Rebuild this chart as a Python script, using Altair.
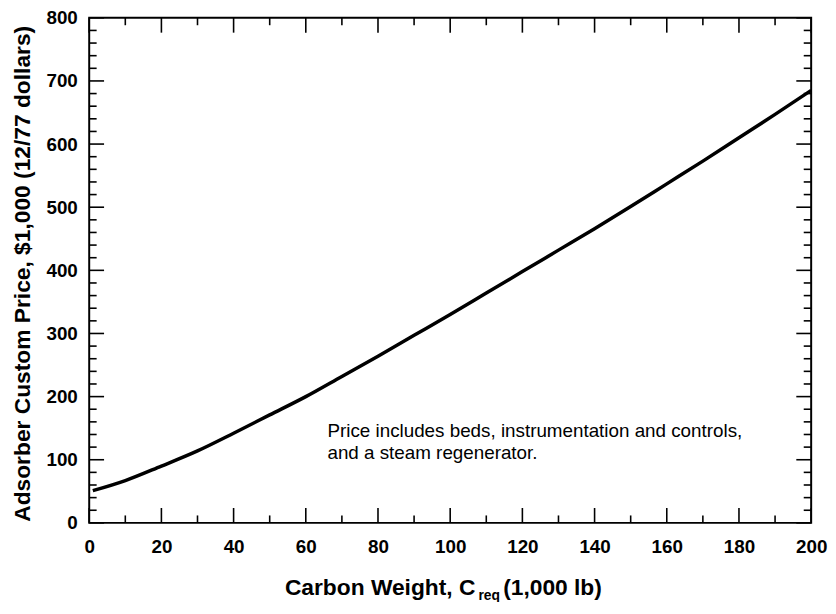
import altair as alt
import pandas as pd

# ---- data ----
carbon_weight = [1, 10, 20, 30, 40, 50, 60, 70, 80, 90, 100, 110, 120, 130, 140,
                 150, 160, 170, 180, 190, 200]
price = [51, 67, 90, 114, 142, 171, 200, 232, 264, 297, 330, 364, 398, 432, 466,
         501, 537, 573, 610, 647, 685]

x_major = list(range(0, 201, 20))
x_minor = list(range(10, 200, 20))
y_major = list(range(0, 801, 100))
y_minor = [v for v in range(20, 800, 20) if v % 100]

note_text = ["Price includes beds, instrumentation and controls,\nand a steam regenerator."]
note_x = [66]
note_y = [136]

x_title_main = ["Carbon Weight, C"]
x_title_sub = ["req"]
x_title_tail = ["(1,000 lb)"]
y_title = "Adsorber Custom Price, $1,000 (12/77 dollars)"

# ---- layout ----
W, H = 729, 510
FONT = "Liberation Sans"
MAJ, MIN = 15, 7.5

xs = alt.Scale(domain=[0, 200], nice=False, zero=False)
ys = alt.Scale(domain=[0, 800], nice=False, zero=False)

x_axis = alt.Axis(
    values=x_major, title=None, grid=False, domain=False, ticks=False, tickSize=0,
    labelFont=FONT, labelFontSize=19, labelFontWeight="bold", labelColor="black",
    labelPadding=14.5, labelFlush=False, labelOverlap=False)
y_axis = alt.Axis(
    values=y_major, title=y_title, grid=False, domain=False, ticks=False, tickSize=0,
    labelFont=FONT, labelFontSize=19, labelFontWeight="bold", labelColor="black",
    labelPadding=12, labelFlush=False, labelOverlap=False,
    titleFont=FONT, titleFontSize=23, titleFontWeight="bold", titleColor="black",
    titleX=-60, titleY=258, titleBaseline="alphabetic", titleAngle=270)

curve_df = pd.DataFrame({"w": carbon_weight, "p": price})
curve = alt.Chart(curve_df).mark_line(
    color="black", strokeWidth=3.5, interpolate="monotone"
).encode(
    x=alt.X("w:Q", scale=xs, axis=x_axis),
    y=alt.Y("p:Q", scale=ys, axis=y_axis),
)


def xticks(vals, length, top):
    df = pd.DataFrame({"v": vals})
    y0 = 0 if top else H
    y1 = length if top else H - length
    return alt.Chart(df).mark_rule(color="black", strokeWidth=1.6).encode(
        x=alt.X("v:Q", scale=xs, axis=x_axis), y=alt.value(y0), y2=alt.value(y1))


def yticks(vals, length, right):
    df = pd.DataFrame({"v": vals})
    x0 = W if right else 0
    x1 = W - length if right else length
    return alt.Chart(df).mark_rule(color="black", strokeWidth=1.6).encode(
        y=alt.Y("v:Q", scale=ys, axis=y_axis), x=alt.value(x0), x2=alt.value(x1))


ticks = [
    xticks(x_major, MAJ, False), xticks(x_minor, MIN, False),
    xticks(x_major, MAJ, True), xticks(x_minor, MIN, True),
    yticks(y_major, MAJ, False), yticks(y_minor, MIN, False),
    yticks(y_major, MAJ, True), yticks(y_minor, MIN, True),
]

note = alt.Chart(pd.DataFrame({"t": note_text, "x": note_x, "y": note_y})).mark_text(
    align="left", baseline="alphabetic", font=FONT, fontSize=19, lineHeight=22,
    lineBreak="\n", color="black"
).encode(x=alt.X("x:Q", scale=xs, axis=x_axis), y=alt.Y("y:Q", scale=ys, axis=y_axis),
         text="t:N")

t_main = alt.Chart(pd.DataFrame({"t": x_title_main})).mark_text(
    align="right", baseline="alphabetic", font=FONT, fontSize=23, fontWeight="bold",
    color="black"
).encode(x=alt.value(390), y=alt.value(583), text="t:N")
t_sub = alt.Chart(pd.DataFrame({"t": x_title_sub})).mark_text(
    align="left", baseline="alphabetic", font=FONT, fontSize=14, fontWeight="bold",
    color="black"
).encode(x=alt.value(393), y=alt.value(588), text="t:N")
t_tail = alt.Chart(pd.DataFrame({"t": x_title_tail})).mark_text(
    align="left", baseline="alphabetic", font=FONT, fontSize=23, fontWeight="bold",
    color="black"
).encode(x=alt.value(418), y=alt.value(583), text="t:N")

chart = alt.layer(curve, *ticks, note, t_main, t_sub, t_tail).properties(
    width=W, height=H,
    autosize=alt.AutoSizeParams(type="none"),
    padding={"left": 82, "top": 7, "right": 17, "bottom": 77},
    background="white",
).configure_view(stroke="black", strokeWidth=2)

chart.save("out.html", embed_options={"renderer": "svg", "actions": False})
